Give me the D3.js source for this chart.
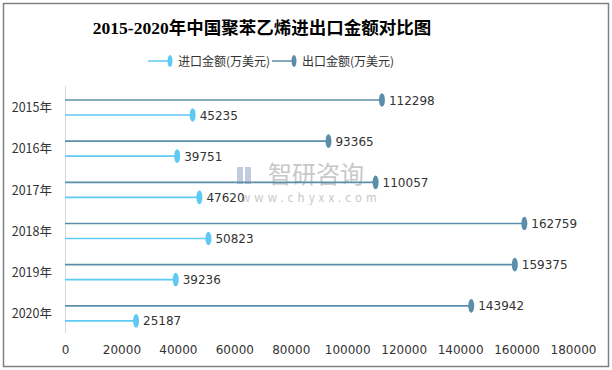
<!DOCTYPE html>
<html>
<head>
<meta charset="utf-8">
<script src="https://d3js.org/d3.v7.min.js"></script>
<style>
body{margin:0;background:#fff;}
text{font-family:"Noto Sans CJK SC","DejaVu Sans",sans-serif;}
</style>
</head>
<body>
<script>
var years = ["2015年","2016年","2017年","2018年","2019年","2020年"];
var importVals = [45235,39751,47620,50823,39236,25187];
var exportVals = [112298,93365,110057,162759,159375,143942];
var xTicks = [0,20000,40000,60000,80000,100000,120000,140000,160000,180000];
var seriesNames = ["进口金额(万美元)","出口金额(万美元)"];

var w = 612, h = 370;
var cImp = "#5ecaf4", cExp = "#5b8fa9";

var svg = d3.select("body").append("svg").attr("width",w).attr("height",h);
svg.append("rect").attr("x",3.5).attr("y",3.5).attr("width",605).attr("height",363)
    .attr("fill","#fff").attr("stroke","#808080").attr("stroke-width",1.5);

svg.append("text").attr("x",262).attr("y",34).attr("text-anchor","middle")
    .style("font-family","'Liberation Serif','Noto Sans CJK SC',serif")
    .style("font-size","17.5px").style("font-weight","bold").attr("fill","#000")
    .text("2015-2020年中国聚苯乙烯进出口金额对比图");

// watermark
var wm = svg.append("g");
wm.append("rect").attr("x",237).attr("y",167).attr("width",6).attr("height",17).attr("fill","#c3cbe0");
wm.append("rect").attr("x",245).attr("y",167).attr("width",6).attr("height",17).attr("fill","#c3cbe0");
wm.append("text").attr("x",268).attr("y",183).style("font-size","24px").attr("fill","#c8c8c8").text("智研咨询");
wm.append("text").attr("x",241).attr("y",202).style("font-size","11.5px").attr("fill","#c8c8c8")
    .attr("letter-spacing","4.1px").text("www.chyxx.com");

// legend
var leg = [{x:148,c:cImp,t:seriesNames[0]},{x:272,c:cExp,t:seriesNames[1]}];
leg.forEach(function(l){
    svg.append("line").attr("x1",l.x).attr("x2",l.x+22).attr("y1",61).attr("y2",61).attr("stroke",l.c).attr("stroke-width",1.5);
    svg.append("ellipse").attr("cx",l.x+22).attr("cy",61).attr("rx",2.5).attr("ry",6).attr("fill",l.c);
    svg.append("text").attr("x",l.x+30).attr("y",65.5).style("font-size","12px").attr("fill","#333").text(l.t);
});

var xScale = d3.scaleLinear().domain([0,180000]).range([65,573]);
var yScale = d3.scaleBand().domain(years).range([86,333]);

svg.append("line").attr("x1",65.5).attr("x2",65.5).attr("y1",86).attr("y2",333).attr("stroke","#d9d9d9");

var xAxis = d3.axisBottom(xScale).tickValues(xTicks).tickSize(0).tickFormat(d3.format("d"));
var gx = svg.append("g").attr("transform","translate(0,342)").call(xAxis);
gx.select(".domain").remove();
gx.selectAll("text").style("font-size","12px").attr("fill","#333").style("font-family","'DejaVu Sans',sans-serif");

var yAxis = d3.axisLeft(yScale).tickSize(0);
var gy = svg.append("g").attr("transform","translate(55,0)").call(yAxis);
gy.select(".domain").remove();
gy.selectAll("text").style("font-size","12.5px").attr("fill","#333").attr("dy","0.45em");

function drawSeries(vals, off, c){
    var g = svg.append("g");
    g.selectAll("line").data(vals).enter().append("line")
        .attr("x1",xScale(0)).attr("x2",function(d){return xScale(d);})
        .attr("y1",function(d,i){return yScale(years[i])+off;})
        .attr("y2",function(d,i){return yScale(years[i])+off;})
        .attr("stroke",c).attr("stroke-width",1.6);
    g.selectAll("ellipse").data(vals).enter().append("ellipse")
        .attr("cx",function(d){return xScale(d);})
        .attr("cy",function(d,i){return yScale(years[i])+off;})
        .attr("rx",3).attr("ry",6.8).attr("fill",c);
    g.selectAll("text").data(vals).enter().append("text")
        .attr("x",function(d){return xScale(d)+7;})
        .attr("y",function(d,i){return yScale(years[i])+off+4.5;})
        .style("font-size","12px").style("font-family","'DejaVu Sans',sans-serif").attr("fill","#333")
        .text(function(d){return d;});
}
drawSeries(exportVals,14,cExp);
drawSeries(importVals,29,cImp);
</script>
</body>
</html>
